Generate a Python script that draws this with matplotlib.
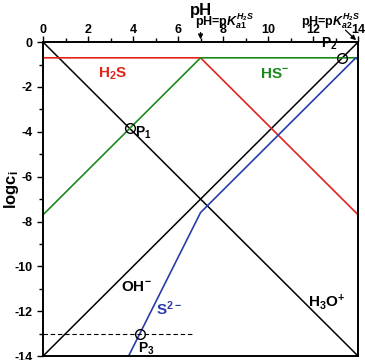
import numpy as np
import matplotlib.pyplot as plt
from matplotlib.ticker import MultipleLocator

# --- data (pH breakpoints / log concentration) ---
h2s_ph = [0, 7.0, 14]
h2s_logc = [-0.7, -0.7, -7.7]
hs_ph = [0, 7.0, 13.9, 14]
hs_logc = [-7.7, -0.7, -0.7, -0.8]
s2_ph = [3.8, 7.0, 13.9, 14]
s2_logc = [-14, -7.6, -0.7, -0.7]
oh_ph = [0, 14]
oh_logc = [-14, 0]
h3o_ph = [0, 14]
h3o_logc = [0, -14]
points_ph = [3.85, 13.3, 4.3]
points_logc = [-3.85, -0.7, -13.0]
point_names = ['P$_1$', 'P$_2$', 'P$_3$']
dash_ph = [0, 6.6]
dash_logc = [-13, -13]

plt.rcParams['font.family'] = 'Liberation Sans'
plt.rcParams['font.weight'] = 'bold'
plt.rcParams['axes.labelweight'] = 'bold'
plt.rcParams['mathtext.fontset'] = 'custom'
plt.rcParams['mathtext.rm'] = 'Liberation Sans:bold'
plt.rcParams['mathtext.it'] = 'Liberation Sans:bold:italic'
plt.rcParams['mathtext.bf'] = 'Liberation Sans:bold'
plt.rcParams['axes.unicode_minus'] = False

RED = '#e3231b'
GREEN = '#1b8a1b'
BLUE = '#2a3caa'

fig = plt.figure(figsize=(3.65, 3.6), dpi=100)
ax = fig.add_axes([0.118, 0.011, 0.863, 0.872])

ax.plot(oh_ph, oh_logc, color='black', lw=1.1)
ax.plot(h3o_ph, h3o_logc, color='black', lw=1.1)
ax.plot(h2s_ph, h2s_logc, color=RED, lw=1.2)
ax.plot(hs_ph, hs_logc, color=GREEN, lw=1.2)
ax.plot(s2_ph, s2_logc, color=BLUE, lw=1.2)
ax.plot(dash_ph, dash_logc, color='black', lw=0.8, ls=(0, (4, 2.5)))
ax.plot(points_ph, points_logc, 'o', mfc='none', mec='black', ms=7, mew=1.0)

# point labels
ax.text(points_ph[0] + 0.25, points_logc[0] - 0.2, point_names[0], fontsize=10, ha='left', va='center')
ax.text(points_ph[1] - 0.2, points_logc[1] + 0.25, point_names[1], fontsize=10, ha='right', va='bottom')
ax.text(points_ph[2] - 0.1, points_logc[2] - 0.3, point_names[2], fontsize=10, ha='left', va='top')

# species labels
ax.text(3.1, -1.4, 'H$_2$S', color=RED, fontsize=11, ha='center', va='center')
ax.text(10.3, -1.4, 'HS$^{-}$', color=GREEN, fontsize=11, ha='center', va='center')
ax.text(4.15, -10.9, 'OH$^{-}$', color='black', fontsize=11, ha='center', va='center')
ax.text(5.6, -11.9, 'S$^{2-}$', color=BLUE, fontsize=11, ha='center', va='center')
ax.text(12.6, -11.6, 'H$_3$O$^{+}$', color='black', fontsize=11, ha='center', va='center')

ax.set_xlim(0, 14)
ax.set_ylim(-14, 0)
ax.xaxis.tick_top()
ax.xaxis.set_major_locator(MultipleLocator(2))
ax.xaxis.set_minor_locator(MultipleLocator(1))
ax.yaxis.set_major_locator(MultipleLocator(2))
ax.yaxis.set_minor_locator(MultipleLocator(1))
ax.tick_params(which='both', direction='out', labelsize=9, width=1.0)
ax.tick_params(which='major', length=4)
ax.tick_params(which='minor', length=3)
ax.tick_params(axis='x', which='major', pad=0.5)
ax.tick_params(axis='y', which='major', pad=3.5)
for lab in ax.get_xticklabels() + ax.get_yticklabels():
    lab.set_fontweight('bold')
for sp in ax.spines.values():
    sp.set_linewidth(1.4)

ax.set_ylabel(r'logc$_\mathrm{i}$', fontsize=12, fontweight='bold')
ax.yaxis.set_label_coords(-0.07, 0.53)

# top annotations
ax.text(7.0, 1.42, 'pH', fontsize=12, ha='center', va='center')
ax.text(6.75, 0.95, 'pH=p$K_{a1}^{H_2S}$', fontsize=9, ha='left', va='center')
ax.annotate('', xy=(7.0, 0.0), xytext=(7.0, 0.55), annotation_clip=False,
            arrowprops=dict(arrowstyle='-|>', color='black', lw=0.9, mutation_scale=7))
ax.text(14.1, 0.95, 'pH=p$K_{a2}^{H_2S}$', fontsize=9, ha='right', va='center')
ax.annotate('', xy=(14.0, 0.0), xytext=(13.35, 0.62), annotation_clip=False,
            arrowprops=dict(arrowstyle='-|>', color='black', lw=0.9, mutation_scale=7))

fig.savefig('out.png', dpi=100)
